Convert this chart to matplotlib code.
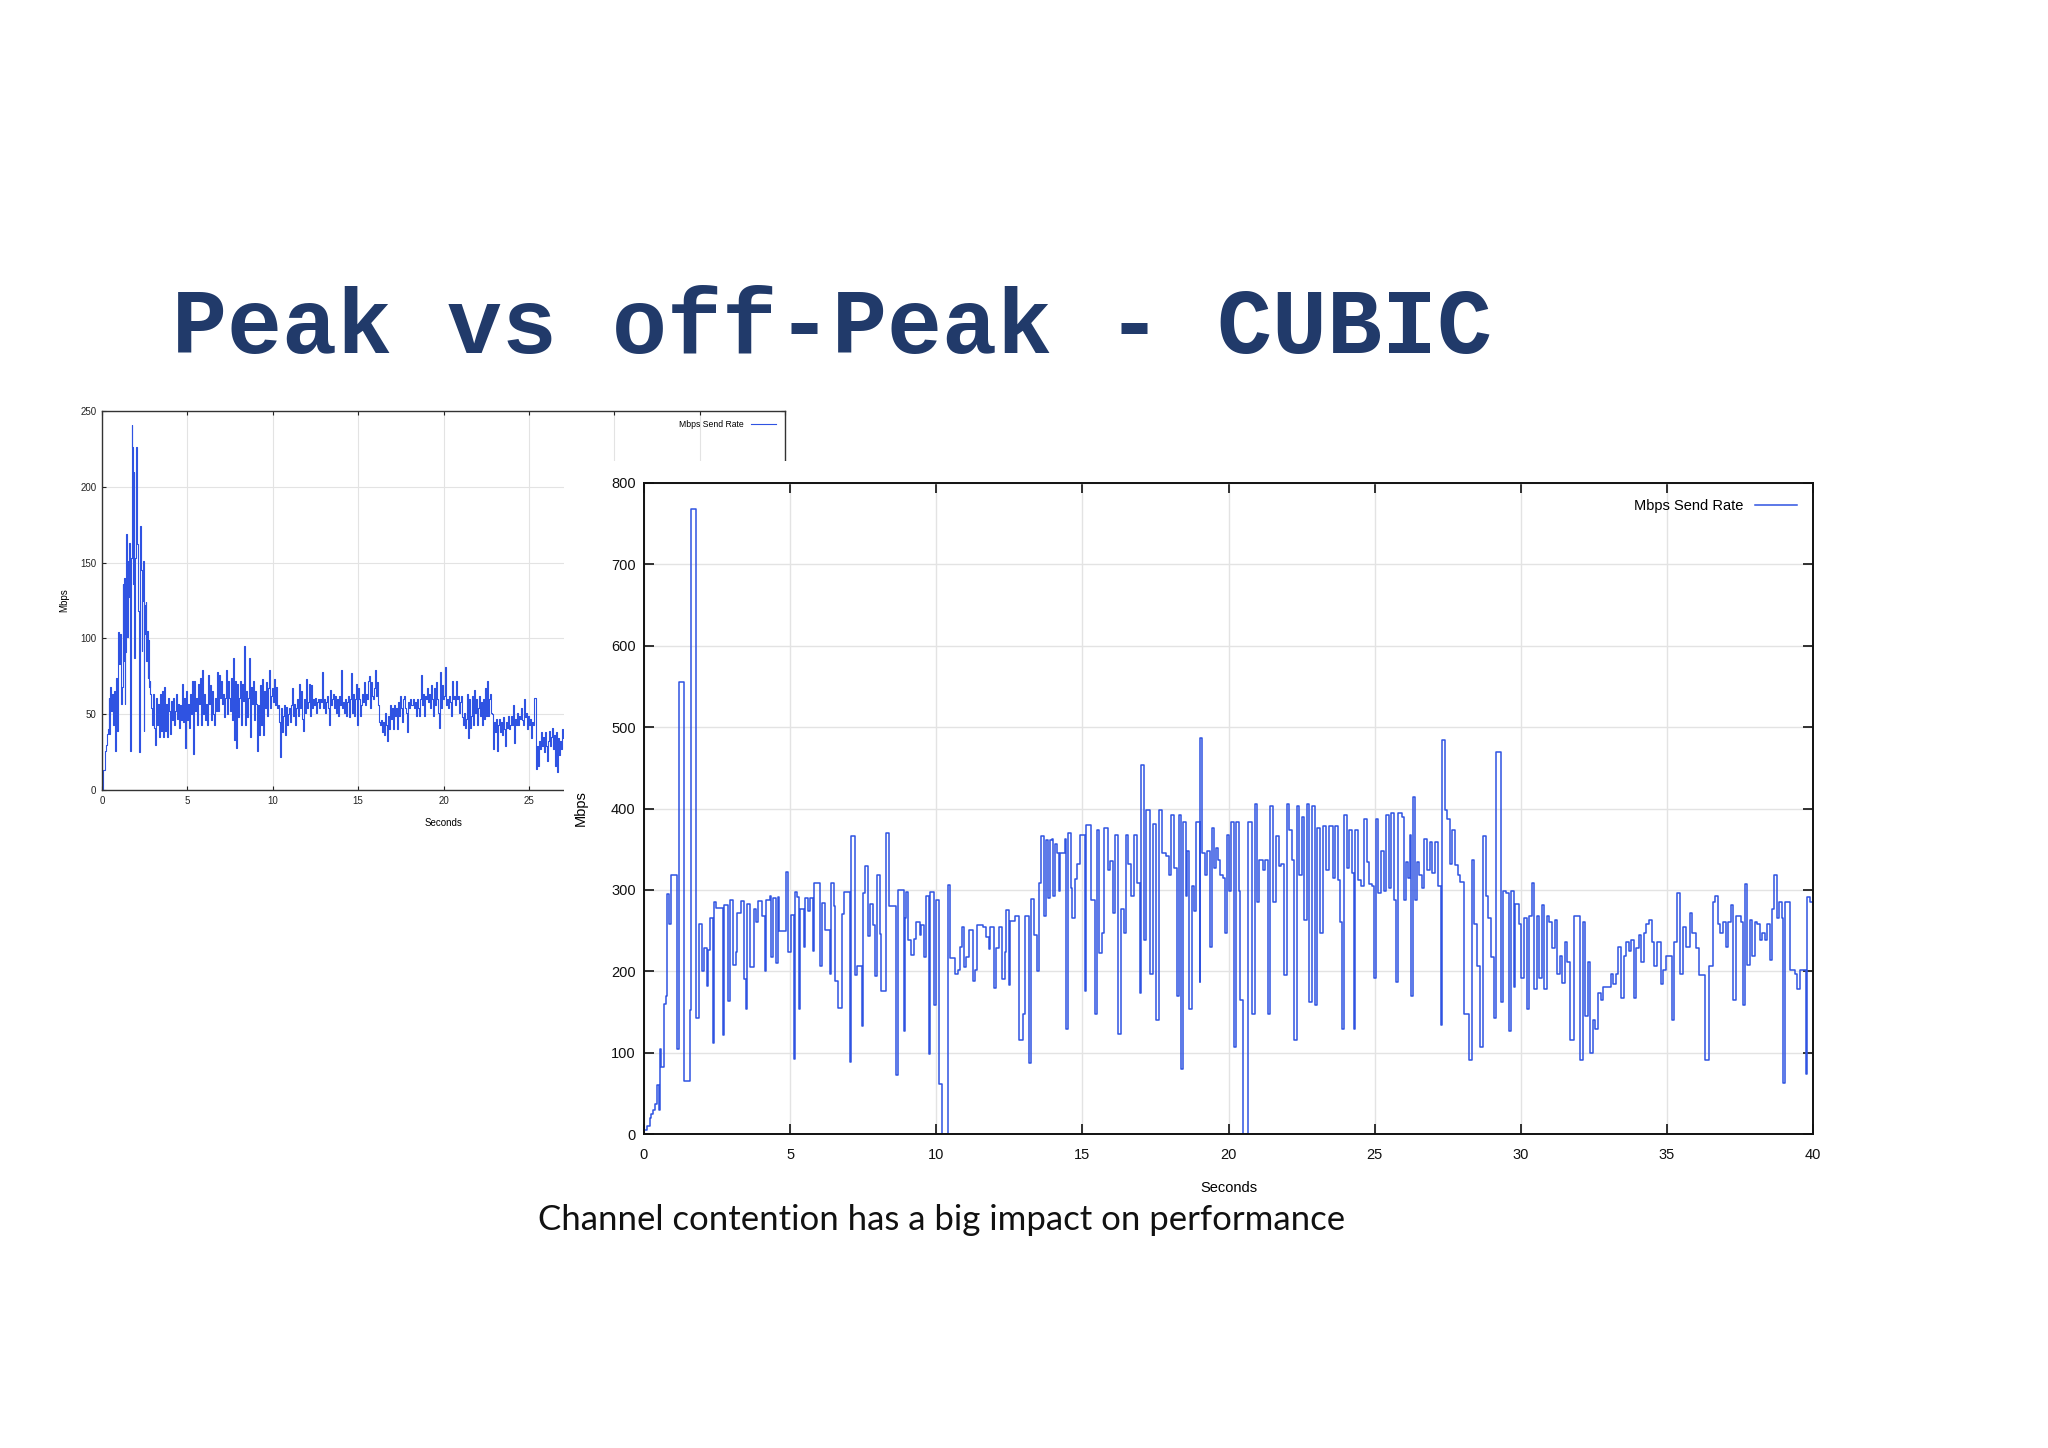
import numpy as np
import matplotlib.pyplot as plt
from matplotlib.patches import Rectangle

# Slide: Peak vs off-Peak - CUBIC

# off-peak run (small chart, top left): ramp-up part read with its own times
small_head_t = [0.00, 0.04, 0.16, 0.23, 0.31, 0.35, 0.39, 0.43, 0.49, 0.55, 0.59, 0.66, 0.72,
                0.78, 0.84, 0.88, 0.94, 1.01, 1.07, 1.13, 1.17, 1.21, 1.25, 1.29, 1.33, 1.37,
                1.41, 1.46, 1.50, 1.54, 1.58, 1.62, 1.66, 1.70, 1.74, 1.78, 1.82, 1.85, 1.89,
                1.93, 1.97, 2.01, 2.05, 2.09, 2.13, 2.17, 2.21, 2.24, 2.28, 2.32, 2.36, 2.40,
                2.44, 2.48, 2.52, 2.56, 2.60, 2.63, 2.67, 2.71, 2.75, 2.79, 2.83, 2.87]
small_head_mbps = [0, 13, 26, 30, 37, 40, 61, 37, 68, 52, 63, 43, 65,
                   26, 74, 39, 104, 83, 103, 57, 68, 136, 85, 140, 57, 91,
                   169, 101, 151, 127, 163, 68, 26, 153, 241, 226, 136, 210, 87,
                   153, 195, 226, 162, 140, 118, 25, 162, 174, 145, 92, 125, 151,
                   39, 122, 103, 124, 85, 105, 74, 99, 68, 72, 63, 54]

# rest of the off-peak run, one sample every small_dt seconds
small_dt = 0.0586
small_tail_mbps = [
    43, 63, 41, 30, 61, 43, 57, 35, 63, 39, 65, 35, 68, 39, 57, 35, 61, 52, 37, 59,
    46, 61, 43, 52, 63, 47, 57, 41, 56, 46, 70, 45, 61, 28, 65, 46, 57, 41, 63, 50,
    72, 24, 72, 52, 61, 43, 70, 57, 74, 43, 79, 50, 63, 46, 57, 43, 76, 57, 69, 46,
    65, 50, 43, 61, 52, 78, 52, 76, 61, 72, 57, 63, 48, 61, 79, 50, 72, 61, 52, 74,
    46, 87, 33, 72, 28, 70, 48, 61, 72, 43, 70, 59, 95, 43, 65, 48, 61, 87, 35, 68,
    57, 72, 46, 65, 57,
    26, 56, 36, 69, 43, 73, 36, 65, 54, 71, 49, 67, 79, 54, 62, 67, 58, 73, 56, 68,
    54, 56, 45, 22, 54, 38, 49, 56, 36, 55, 43, 50, 54, 45, 56, 67, 49, 57, 43, 54,
    60, 49, 70, 54, 65, 47, 39, 60, 51, 73, 54, 58, 70, 49, 69, 54, 60, 56, 61, 51,
    58, 60, 54, 60, 58, 78, 54, 60, 51, 58, 62, 54, 43, 66, 56, 60, 63, 54, 62, 51,
    60, 49, 62, 56, 79, 54, 58, 51, 60, 49, 58, 62, 48, 60, 77, 51, 63, 49, 60, 70,
    43, 67, 60, 49, 56, 63, 58, 71, 56, 63, 60, 72, 75, 54, 71, 62, 60, 67, 79, 62,
    71, 56, 45, 43, 46, 38, 45, 36, 51, 43, 32, 49, 40, 56, 47, 54, 40, 56, 49, 54,
    40, 58, 49, 62, 54, 45, 60, 62, 54, 51, 38, 58, 54, 60, 56,
    56, 60, 54, 58, 49, 60, 54, 49, 60, 76, 56, 63, 49, 62, 60, 67, 58, 63, 54, 69,
    60, 49, 67, 56, 71, 60, 51, 41, 78, 54, 69, 60, 62, 81, 56, 60, 54, 62, 58, 49,
    72, 60, 62, 56, 72, 60, 62, 51, 58, 62, 48, 43, 51, 41, 47, 63, 34, 60, 41, 49,
    62, 43, 66, 51, 60, 43, 54, 62, 49, 58, 43, 60, 47, 67, 49, 72, 49, 60, 63, 51,
    50, 27, 45, 38, 47, 26, 43, 47, 38, 45, 36, 48, 40, 29, 45, 41, 49, 40, 43, 49,
    43, 56, 31, 47, 43, 51, 43, 49, 47, 54, 46, 43, 60, 48, 51, 40, 49, 43, 47, 34,
    45, 43, 61, 61, 14, 29, 16, 32, 27, 38, 29, 35, 25, 38, 29, 19, 32, 39, 29, 35,
    41, 27, 36, 16, 38, 12, 34, 23, 32, 27, 40, 34, 38]

# peak run (big chart), step changes: time (s) and rate (Mbps)
big_t = [
    0.00, 0.10, 0.19, 0.25, 0.31, 0.39, 0.44, 0.51, 0.54, 0.59, 0.67, 0.76, 0.79, 0.86, 0.94,
    1.13, 1.20, 1.36, 1.58, 1.62, 1.79, 1.88, 2.00, 2.04, 2.16, 2.18, 2.27, 2.36, 2.40, 2.47,
    2.70, 2.73, 2.87, 2.93, 3.04, 3.14, 3.19, 3.33, 3.41, 3.50, 3.53, 3.64, 3.75, 3.84, 3.90,
    4.03, 4.15, 4.18, 4.30, 4.34, 4.41, 4.50, 4.57, 4.62, 4.85, 4.94, 5.02, 5.12, 5.15, 5.23,
    5.30, 5.35, 5.47, 5.51, 5.61, 5.67, 5.78, 5.83, 6.03, 6.08, 6.18, 6.37, 6.41, 6.49, 6.53,
    6.64, 6.78, 6.86, 7.06, 7.10, 7.21, 7.30, 7.47, 7.49, 7.57, 7.66, 7.74, 7.83, 7.89, 7.97,
    8.06, 8.12, 8.29, 8.38, 8.63, 8.70, 8.88, 8.92, 8.97, 9.04, 9.14, 9.24, 9.32, 9.43, 9.49,
    9.57, 9.66, 9.75, 9.79, 9.94, 10.00, 10.11, 10.21, 10.40, 10.48, 10.63, 10.74, 10.80, 10.87, 10.94,
    11.03, 11.12, 11.25, 11.31, 11.40, 11.60, 11.69, 11.79, 11.85, 11.96, 12.05, 12.14, 12.26, 12.34, 12.39,
    12.49, 12.53, 12.68, 12.83, 12.96, 13.02, 13.19, 13.25, 13.33, 13.44, 13.53, 13.59, 13.67, 13.74, 13.82,
    13.88, 13.95, 14.00, 14.07, 14.13, 14.21, 14.25, 14.39, 14.44, 14.51, 14.60, 14.65, 14.74, 14.83, 14.91,
    15.09, 15.12, 15.30, 15.44, 15.49, 15.58, 15.66, 15.75, 15.87, 15.96, 16.05, 16.10, 16.22, 16.31, 16.43,
    16.48, 16.57, 16.66, 16.75, 16.87, 16.97, 17.01, 17.10, 17.18, 17.32, 17.41, 17.53, 17.62, 17.74, 17.85,
    17.97, 18.02, 18.14, 18.23, 18.32, 18.37, 18.44, 18.53, 18.58, 18.65, 18.76, 18.81, 18.90, 19.02, 19.04,
    19.10, 19.21, 19.28, 19.35, 19.42, 19.49, 19.56, 19.63, 19.72, 19.80, 19.89, 19.94, 20.01, 20.08, 20.19,
    20.26, 20.36, 20.41, 20.50, 20.68, 20.82, 20.89, 20.99, 21.06, 21.17, 21.24, 21.34, 21.41, 21.52, 21.64,
    21.72, 21.81, 21.90, 21.99, 22.07, 22.16, 22.25, 22.34, 22.42, 22.51, 22.60, 22.69, 22.77, 22.86, 22.95,
    23.03, 23.12, 23.24, 23.33, 23.44, 23.56, 23.65, 23.73, 23.82, 23.87, 23.96, 24.05, 24.12, 24.21, 24.29,
    24.34, 24.43, 24.52, 24.62, 24.73, 24.82, 24.90, 24.99, 25.04, 25.13, 25.22, 25.31, 25.39, 25.48, 25.57,
    25.66, 25.74, 25.79, 25.92, 25.99, 26.06, 26.13, 26.20, 26.25, 26.30, 26.37, 26.44, 26.53, 26.62, 26.70,
    26.79, 26.88, 26.97, 27.05, 27.17, 27.28, 27.31, 27.40, 27.49, 27.58, 27.66, 27.75, 27.84, 27.93, 28.05,
    28.22, 28.33, 28.41, 28.50, 28.62, 28.71, 28.80, 28.89, 28.99, 29.10, 29.17, 29.32, 29.38, 29.50, 29.59,
    29.67, 29.76, 29.81, 29.93, 30.02, 30.11, 30.21, 30.28, 30.37, 30.46, 30.55, 30.63, 30.72, 30.81, 30.90,
    30.98, 31.07, 31.16, 31.24, 31.33, 31.42, 31.51, 31.59, 31.68, 31.82, 32.03, 32.12, 32.21, 32.29, 32.38,
    32.47, 32.55, 32.64, 32.73, 32.82, 32.99, 33.08, 33.17, 33.25, 33.34, 33.43, 33.52, 33.60, 33.69, 33.78,
    33.86, 33.95, 34.04, 34.13, 34.21, 34.30, 34.39, 34.48, 34.56, 34.65, 34.79, 34.88, 34.97, 35.17, 35.23,
    35.35, 35.45, 35.56, 35.66, 35.79, 35.87, 36.01, 36.10, 36.31, 36.45, 36.57, 36.66, 36.75, 36.83, 36.92,
    37.01, 37.10, 37.18, 37.27, 37.36, 37.53, 37.62, 37.67, 37.74, 37.83, 37.92, 38.00, 38.09, 38.18, 38.27,
    38.36, 38.44, 38.53, 38.58, 38.67, 38.76, 38.84, 38.93, 38.98, 39.04, 39.23, 39.37, 39.46, 39.55, 39.76,
    39.81, 39.90, 40.00]
big_mbps = [
    5, 10, 20, 25, 30, 37, 60, 30, 105, 82, 160, 170, 295, 258, 318,
    105, 555, 65, 152, 768, 142, 258, 200, 228, 182, 226, 265, 112, 285, 278,
    122, 282, 163, 288, 208, 224, 272, 286, 190, 154, 283, 205, 276, 260, 286,
    268, 200, 288, 292, 218, 290, 210, 291, 249, 322, 224, 269, 92, 298, 291,
    153, 277, 230, 290, 274, 290, 225, 309, 206, 284, 251, 197, 308, 280, 188,
    155, 270, 298, 89, 366, 196, 206, 133, 296, 329, 243, 283, 257, 194, 318,
    246, 176, 370, 280, 73, 300, 126, 265, 298, 238, 220, 240, 260, 245, 257,
    217, 292, 98, 298, 158, 287, 62, 0, 306, 216, 197, 202, 230, 254, 205,
    218, 251, 188, 202, 257, 254, 242, 227, 254, 180, 229, 254, 191, 224, 275,
    183, 262, 268, 115, 147, 268, 87, 289, 244, 200, 309, 366, 268, 361, 290,
    361, 362, 293, 356, 345, 299, 345, 362, 129, 370, 302, 266, 313, 332, 368,
    176, 380, 288, 148, 374, 222, 247, 376, 325, 336, 272, 368, 123, 277, 247,
    368, 332, 293, 368, 308, 173, 454, 239, 398, 197, 381, 140, 398, 345, 342,
    318, 392, 327, 170, 392, 80, 384, 293, 348, 154, 305, 274, 384, 187, 487,
    345, 318, 348, 230, 376, 327, 351, 337, 318, 315, 247, 367, 299, 384, 107,
    384, 299, 165, 0, 384, 148, 406, 285, 337, 325, 337, 148, 403, 285, 366,
    329, 332, 195, 406, 373, 337, 115, 403, 318, 389, 263, 406, 162, 403, 159,
    376, 247, 379, 325, 379, 315, 379, 312, 261, 129, 392, 327, 373, 321, 129,
    373, 312, 305, 387, 334, 307, 305, 192, 387, 296, 348, 299, 392, 302, 395,
    288, 187, 395, 389, 288, 334, 315, 368, 170, 414, 288, 334, 318, 302, 362,
    325, 359, 321, 359, 305, 134, 484, 398, 387, 332, 373, 330, 318, 310, 148,
    91, 337, 258, 206, 107, 366, 293, 266, 217, 143, 469, 162, 299, 296, 126,
    299, 181, 283, 258, 192, 266, 154, 268, 308, 178, 268, 192, 282, 178, 268,
    261, 228, 263, 197, 219, 186, 236, 211, 115, 268, 91, 261, 145, 211, 99,
    140, 129, 173, 165, 181, 181, 197, 184, 197, 230, 167, 219, 236, 225, 239,
    167, 228, 244, 211, 247, 258, 263, 236, 206, 236, 184, 202, 219, 140, 236,
    296, 197, 254, 230, 272, 247, 228, 195, 91, 206, 285, 293, 258, 247, 261,
    230, 261, 282, 165, 268, 261, 159, 307, 208, 263, 219, 261, 258, 239, 247,
    239, 258, 214, 277, 318, 266, 285, 266, 63, 285, 202, 197, 178, 202, 74,
    291, 285, 285]

title = 'Peak vs off-Peak - CUBIC'
caption = 'Channel contention has a big impact on performance'
legend_label = 'Mbps Send Rate'

small_t = np.concatenate([small_head_t,
                          small_head_t[-1] + small_dt * np.arange(1, len(small_tail_mbps) + 1)])
small_mbps = np.concatenate([small_head_mbps, small_tail_mbps])

W, H = 2048, 1448
blue = '#2f53e2'
grid_col = '#e3e3e3'

plt.rcParams['font.family'] = ['Liberation Sans', 'DejaVu Sans']

fig = plt.figure(figsize=(W / 100, H / 100), dpi=100)
fig.patch.set_facecolor('white')


def box(left, top, right, bottom):
    # pixel box -> figure fraction rect
    return [left / W, 1 - bottom / H, (right - left) / W, (bottom - top) / H]


# small (off-peak) chart, partly hidden behind the big one
ax1 = fig.add_axes(box(102, 411, 785, 790))
ax1.set_zorder(0)
ax1.step(small_t, small_mbps, where='post', color=blue, lw=0.8, label=legend_label)
ax1.set_xlim(0, 40)
ax1.set_ylim(0, 250)
ax1.set_xticks(range(0, 45, 5))
ax1.set_yticks(range(0, 300, 50))
ax1.set_axisbelow(True)
ax1.grid(color=grid_col, lw=0.8)
ax1.tick_params(direction='in', length=3, width=0.8, labelsize=7, top=True, right=True,
                pad=4, colors='#222222')
for s in ax1.spines.values():
    s.set_linewidth(1.0)
    s.set_color('#333333')
ax1.set_xlabel('Seconds', fontsize=7)
ax1.set_ylabel('Mbps', fontsize=7)
ax1.xaxis.set_label_coords(0.5, -0.075)
ax1.yaxis.set_label_coords(-0.048, 0.5)
ax1.legend(loc='upper right', frameon=False, fontsize=6.2, markerfirst=False,
           handlelength=3, borderaxespad=0.6)

# white area of the pasted big chart
cover = Rectangle((564 / W, 1 - 1200 / H), (1900 - 564) / W, (1200 - 461) / H,
                  transform=fig.transFigure, facecolor='white', edgecolor='none', zorder=1)
fig.add_artist(cover)

# big (peak) chart
ax2 = fig.add_axes(box(644, 483, 1813, 1134))
ax2.set_zorder(2)
ax2.step(big_t, big_mbps, where='post', color=blue, lw=1.1, label=legend_label)
ax2.set_xlim(0, 40)
ax2.set_ylim(0, 800)
ax2.set_xticks(range(0, 45, 5))
ax2.set_yticks(range(0, 900, 100))
ax2.set_axisbelow(True)
ax2.grid(color=grid_col, lw=1.0)
ax2.tick_params(direction='in', length=7, width=1.2, labelsize=10.5, top=True, right=True,
                colors='#111111')
ax2.tick_params(axis='x', pad=10)
ax2.tick_params(axis='y', pad=6)
for s in ax2.spines.values():
    s.set_linewidth(1.4)
    s.set_color('#111111')
ax2.set_xlabel('Seconds', fontsize=10.5)
ax2.set_ylabel('Mbps', fontsize=10.5)
ax2.xaxis.set_label_coords(0.5, -0.072)
ax2.yaxis.set_label_coords(-0.048, 0.5)
ax2.legend(loc='upper right', frameon=False, fontsize=10.5, markerfirst=False,
           handlelength=2.9, borderaxespad=0.7)

# slide title and caption
fig.text(172 / W, 1 - 353 / H, title, family=['Liberation Mono', 'DejaVu Sans Mono'],
         fontweight='bold', fontsize=66, color='#213a6a', va='baseline', ha='left')
fig.text(538 / W, 1 - 1230 / H, caption, family=['Lato', 'DejaVu Sans'],
         fontsize=25, color='#111111', va='baseline', ha='left')

fig.savefig('out.png', dpi=100, facecolor='white')
